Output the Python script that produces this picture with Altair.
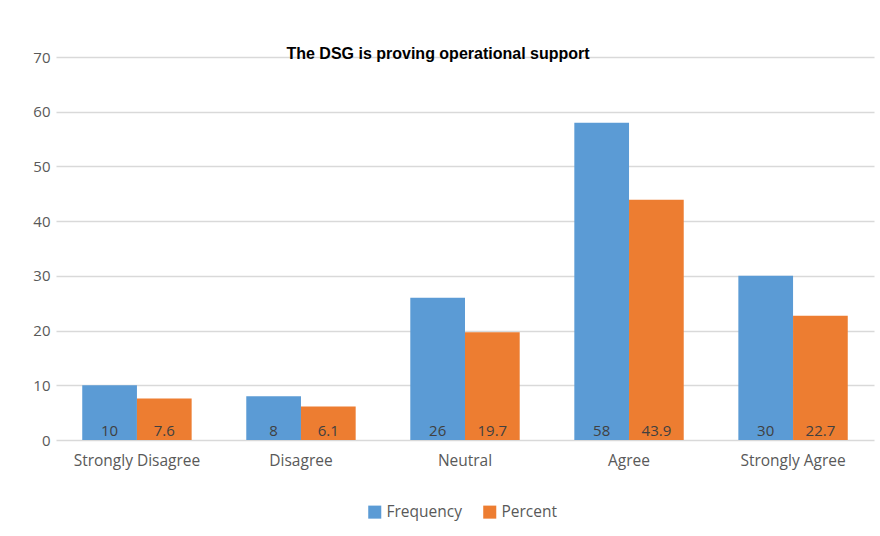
import altair as alt
import pandas as pd

categories = ["Strongly Disagree", "Disagree", "Neutral", "Agree", "Strongly Agree"]
frequency = [10, 8, 26, 58, 30]
percent = [7.6, 6.1, 19.7, 43.9, 22.7]
series = ["Frequency", "Percent"]
colors = ["#5B9BD5", "#ED7D31"]

rows = []
for c, f, p in zip(categories, frequency, percent):
    rows.append({"category": c, "series": "Frequency", "value": f, "label": f"{f}"})
    rows.append({"category": c, "series": "Percent", "value": p, "label": f"{p}"})
df = pd.DataFrame(rows)

label_font = "Open Sans"

base = alt.Chart(df).encode(
    x=alt.X(
        "category:N",
        sort=categories,
        title=None,
        scale=alt.Scale(paddingInner=0.333, paddingOuter=0.16),
        axis=alt.Axis(
            labelAngle=0, domain=False, ticks=False, labelPadding=13,
            labelFont=label_font, labelFontSize=15.5, labelColor="#595959",
            grid=False,
        ),
    ),
    xOffset=alt.XOffset("series:N", sort=series, scale=alt.Scale(paddingInner=0, paddingOuter=0)),
)

bars = base.mark_bar().encode(
    y=alt.Y(
        "value:Q",
        title=None,
        scale=alt.Scale(domain=[0, 70], nice=False),
        axis=alt.Axis(
            values=[0, 10, 20, 30, 40, 50, 60, 70], domain=False, ticks=False,
            labelPadding=6, labelFont=label_font, labelFontSize=15,
            labelColor="#595959", gridColor="#d9d9d9", gridWidth=1.5,
        ),
    ),
    color=alt.Color(
        "series:N",
        sort=series,
        scale=alt.Scale(domain=series, range=colors),
        legend=alt.Legend(
            title=None, orient="none", legendX=311, legendY=447,
            direction="horizontal", symbolType="square", symbolSize=170,
            symbolStrokeWidth=0, labelFont=label_font, labelFontSize=15.5,
            labelColor="#595959", columnPadding=20, symbolOffset=0,
        ),
    ),
)

labels = base.mark_text(
    baseline="bottom", dy=-1, font=label_font, fontSize=15, color="#404040"
).encode(
    y=alt.datum(0),
    text="label:N",
)

chart = (
    alt.layer(bars, labels)
    .properties(
        width=818,
        height=383,
        background="white",
        autosize=alt.AutoSizeParams(type="none"),
        padding={"left": 56, "top": 57, "right": 6, "bottom": 96},
        title=alt.TitleParams(
            "The DSG is proving operational support",
            anchor="middle", dx=-27, offset=-12,
            font="Liberation Sans", fontSize=16, fontWeight="bold",
            color="#000000",
        ),
    )
    .configure_view(stroke="transparent", strokeWidth=0)
)

chart.save("out.html", embed_options={"renderer": "svg", "actions": False})
